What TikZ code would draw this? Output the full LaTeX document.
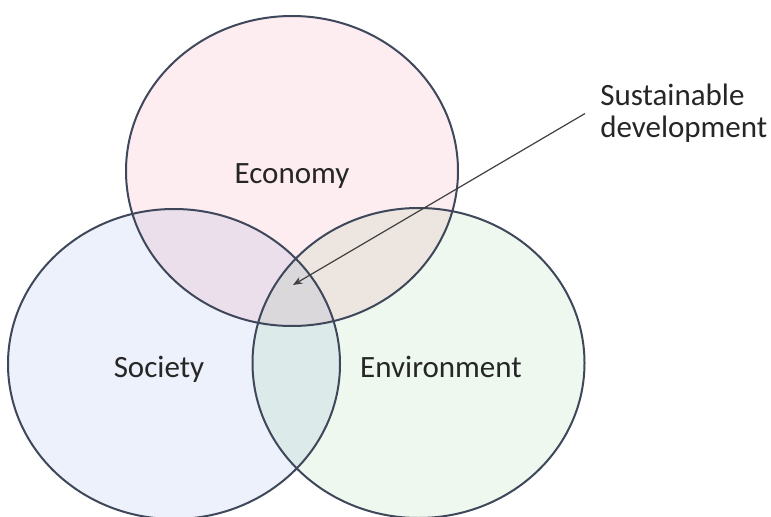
\documentclass[tikz,border=0pt]{standalone}
\usepackage{fontspec}
\setmainfont{Carlito}
\usetikzlibrary{arrows.meta}
\definecolor{econfill}{RGB}{253,236,240}
\definecolor{socfill}{RGB}{237,241,251}
\definecolor{envfill}{RGB}{238,248,238}
\definecolor{rim}{RGB}{62,72,90}
\definecolor{txt}{RGB}{38,38,38}
\begin{document}
\begin{tikzpicture}[x=0.75pt,y=-0.75pt,
  rimline/.style={draw=rim,line width=1.5pt},
  lbl/.style={font=\fontsize{23.25}{24}\selectfont,text=txt,inner sep=0pt},
  pointer/.style={draw=black!75,line width=0.9pt,-{Stealth[length=7pt,width=5.5pt]}}]
\fill[white] (0,0) rectangle (771,517);
\useasboundingbox (0,0) rectangle (771,517);
\begin{scope}[blend group=multiply]
  \fill[econfill] (292,171) ellipse [x radius=166,y radius=155];
  \fill[socfill] (174,364) ellipse [x radius=166,y radius=155];
  \fill[envfill] (418.5,363) ellipse [x radius=166,y radius=155];
\end{scope}
\draw[rimline] (292,171) ellipse [x radius=166,y radius=155];
\draw[rimline] (174,364) ellipse [x radius=166,y radius=155];
\draw[rimline] (418.5,363) ellipse [x radius=166,y radius=155];
\node[lbl,anchor=base] (econ) at (292,183) {Economy};
\node[lbl,anchor=base] (soc) at (159,377) {Society};
\node[lbl,anchor=base] (env) at (441,377) {Environment};
\node[lbl,anchor=north west,align=left] (sd) at (600,84) {Sustainable\\development};
\coordinate (sdtip) at (293,285);
\draw[pointer] ([xshift=-11.25pt]sd.west) -- (sdtip);
\end{tikzpicture}
\end{document}
